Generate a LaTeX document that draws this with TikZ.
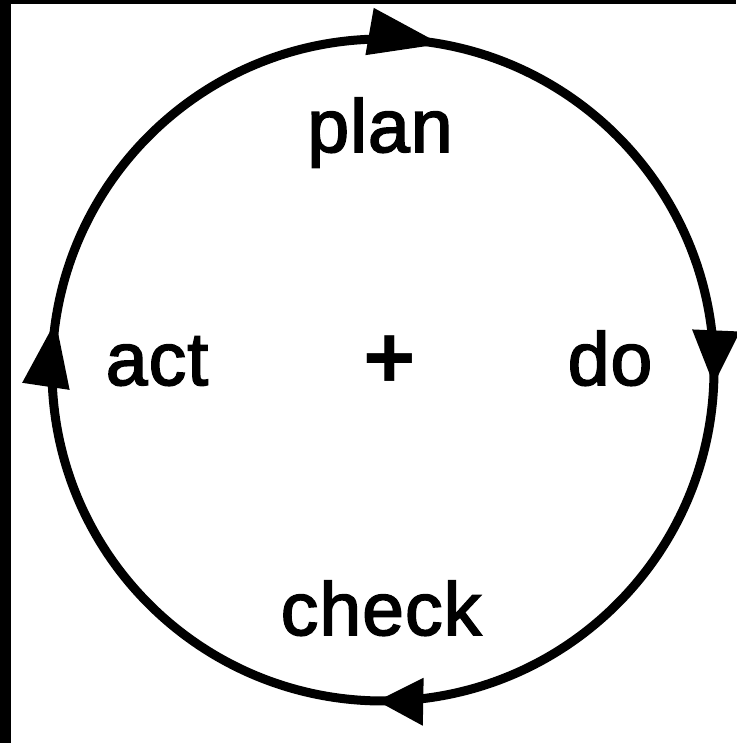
\documentclass[tikz,border=0pt]{standalone}
\usepackage{fontspec}
\setmainfont{Liberation Sans}
\newfontfamily\lblfont[FakeBold=2.3,LetterSpace=1.5]{Liberation Sans}
\usetikzlibrary{calc}
\begin{document}
\begin{tikzpicture}[x=1pt,y=1pt,
  lbl/.style={inner sep=0pt, font=\lblfont\fontsize{75}{80}\selectfont, anchor=base},
  ring/.style={line width=9pt},
  head/.style={fill=black}]
\useasboundingbox (0,0) rectangle (736,743);
\fill[white] (0,0) rectangle (736,743);
\fill[black] (0,0) rectangle (11,743);
\fill[black] (0,739) rectangle (736,743);
\coordinate (C) at (383,373);
\draw[ring] (C) circle (331);
% arrowheads (clockwise): tip angle / length
\foreach \ang/\len in {80/72,-2.5/54,-91/46,171.5/66}{
  \fill[head, shift={($(C)+(\ang:331)$)}, rotate=\ang-90]
    (0,0) -- (-\len,24) -- (-\len,-24) -- cycle;
}
\node[lbl] (plan) at (380,591) {plan};
\node[lbl] (act) at (157,358) {act};
\node[lbl] (do) at (610,358) {do};
\node[lbl] (check) at (381,108) {check};
\node[inner sep=0pt, font=\bfseries\fontsize{90}{90}\selectfont] (plus) at (390,381) {+};
\end{tikzpicture}
\end{document}
